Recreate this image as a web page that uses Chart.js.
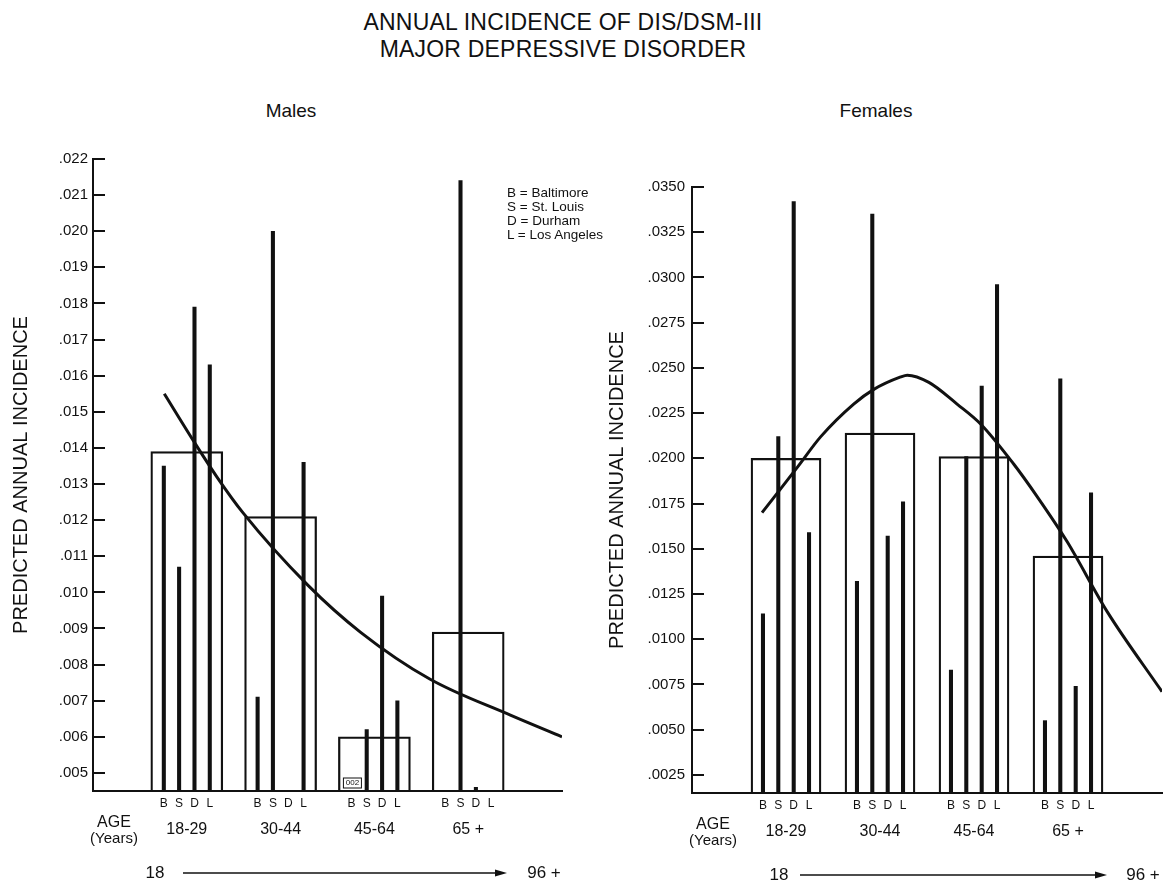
<!DOCTYPE html>
<html>
<head>
<meta charset="utf-8">
<title>Annual incidence of DIS/DSM-III major depressive disorder</title>
<script src="https://cdn.jsdelivr.net/npm/chart.js@4.4.1/dist/chart.umd.min.js"></script>
<style>
  body { margin: 0; background: #fff; width: 1164px; height: 884px; position: relative; overflow: hidden;
         font-family: 'Liberation Sans', Arial, sans-serif; color: #111; }
  .title { position: absolute; left: 0; top: 9px; width: 1126px; text-align: center; font-size: 23px;
           line-height: 27px; letter-spacing: 0.2px; }
  .sub { position: absolute; top: 100px; font-size: 19px; transform: translateX(-50%); }
  .panel { position: absolute; top: 140px; height: 744px; }
  .key { position: absolute; left: 507px; top: 186px; font-size: 13.5px; line-height: 14px; white-space: pre; }
</style>
</head>
<body>
<div class="title">ANNUAL INCIDENCE OF DIS/DSM-III<br>MAJOR DEPRESSIVE DISORDER</div>
<div class="sub" style="left:291px">Males</div>
<div class="sub" style="left:876px">Females</div>
<div class="panel" style="left:0;width:582px"><canvas id="males"></canvas></div>
<div class="panel" style="left:600px;width:564px"><canvas id="females"></canvas></div>
<div class="key" id="key"></div>

<script>
'use strict';

const ageGroups = ['18-29', '30-44', '45-64', '65 +'];
const cityCodes = ['B', 'S', 'D', 'L'];
const cityNames = ['Baltimore', 'St. Louis', 'Durham', 'Los Angeles'];
const ageRange  = ['18', '96 +'];

// Males: pooled estimate per age group (box) and one line per site
const maleTotal = [0.0139, 0.0121, 0.0060, 0.0089];
const maleB     = [0.0135, 0.0071, 0.0020, null];
const maleS     = [0.0107, 0.0200, 0.0062, 0.0214];
const maleD     = [0.0179, null,   0.0099, 0.0046];
const maleL     = [0.0163, 0.0136, 0.0070, null];
// fitted curve, x counted in age-group slots (1 = 18-29 ... 4 = 65+)
const maleFitX  = [0.76, 1.07, 1.32, 1.60, 2.29, 2.85, 3.59, 4.45, 5.0];
const maleFitY  = [0.0155, 0.0142, 0.0132, 0.0122, 0.0102, 0.0089, 0.0076, 0.0066, 0.0060];
const maleTicks = [0.005, 0.006, 0.007, 0.008, 0.009, 0.010, 0.011, 0.012, 0.013,
                   0.014, 0.015, 0.016, 0.017, 0.018, 0.019, 0.020, 0.021, 0.022];

// Females
const femaleTotal = [0.0200, 0.0214, 0.0201, 0.0146];
const femaleB     = [0.0114, 0.0132, 0.0083, 0.0055];
const femaleS     = [0.0212, 0.0335, 0.0201, 0.0244];
const femaleD     = [0.0342, 0.0157, 0.0240, 0.0074];
const femaleL     = [0.0159, 0.0176, 0.0296, 0.0181];
const femaleFitX  = [0.745, 1.12, 1.37, 1.72, 1.93, 2.22, 2.29, 2.52, 2.82, 3.07, 3.42, 3.67, 3.99, 4.42, 5.0];
const femaleFitY  = [0.0170, 0.0195, 0.0212, 0.0230, 0.0238, 0.0245, 0.0246, 0.0242, 0.0230,
                     0.0219, 0.0197, 0.0179, 0.0154, 0.0115, 0.0071];
const femaleTicks = [0.0025, 0.0050, 0.0075, 0.0100, 0.0125, 0.0150, 0.0175,
                     0.0200, 0.0225, 0.0250, 0.0275, 0.0300, 0.0325, 0.0350];

const INK = '#111';
const FONT = "'Liberation Sans', Arial, sans-serif";
// where each site's line sits inside an age-group slot (fraction of a slot)
const SITE_SHIFT = [-0.245, -0.082, 0.082, 0.245];

document.getElementById('key').textContent =
  cityCodes.map((c, i) => `${c} = ${cityNames[i]}`).join('\n');

// letters under the site lines, age labels, the age arrow
const notesPlugin = {
  id: 'notes',
  afterDraw(chart, args, opts) {
    const { ctx, chartArea: area, scales: { x, y } } = chart;
    const base = area.bottom;
    ctx.save();
    ctx.fillStyle = INK;
    ctx.strokeStyle = INK;
    ctx.textAlign = 'center';
    ctx.textBaseline = 'middle';

    opts.siteSets.forEach((dsIndex, k) => {
      const points = chart.data.datasets[dsIndex].data;
      points.forEach(p => {
        const bx = x.getPixelForValue(p.x);
        ctx.font = `12px ${FONT}`;
        ctx.fillText(cityCodes[k], bx, base + 13);
        if (p.y !== null && p.y < y.min) {
          // value below the axis: written in a small box, as in the original
          ctx.lineWidth = 1;
          ctx.strokeRect(bx - 8, base - 13, 18, 10);
          ctx.font = `8px ${FONT}`;
          ctx.fillText(p.y.toFixed(3).slice(2), bx + 1, base - 8);
        }
      });
    });

    ctx.font = `16px ${FONT}`;
    ageGroups.forEach((g, i) => ctx.fillText(g, x.getPixelForValue(i + 1), base + 39));
    ctx.fillText('AGE', area.left + 21, base + 32);
    ctx.font = `15px ${FONT}`;
    ctx.fillText('(Years)', area.left + 21, base + 48);

    // age arrow
    const a = opts.arrow, ay = base + 82;
    ctx.font = `17px ${FONT}`;
    ctx.fillText(ageRange[0], a.from, ay);
    ctx.fillText(ageRange[1], a.to, ay);
    ctx.lineWidth = 1.5;
    ctx.beginPath();
    ctx.moveTo(a.x1, ay);
    ctx.lineTo(a.x2 - 8, ay);
    ctx.stroke();
    ctx.beginPath();
    ctx.moveTo(a.x2, ay);
    ctx.lineTo(a.x2 - 12, ay - 3.5);
    ctx.lineTo(a.x2 - 12, ay + 3.5);
    ctx.closePath();
    ctx.fill();
    ctx.restore();
  }
};

function makeChart(id, s) {
  const sites = [s.b, s.s, s.d, s.l];
  return new Chart(document.getElementById(id), {
    type: 'bar',
    data: {
      datasets: [
        {
          label: 'All sites',
          data: s.total.map((v, j) => ({ x: j + 1, y: v })),
          grouped: false,
          barThickness: s.boxW,
          backgroundColor: 'rgba(0,0,0,0)',
          borderColor: INK,
          borderWidth: 1.6,
          borderSkipped: 'start',
          order: 2,
        },
        ...sites.map((vals, k) => ({
          label: cityNames[k],
          data: vals.map((v, j) => ({ x: j + 1 + SITE_SHIFT[k], y: v })),
          grouped: false,
          barThickness: 3.4,
          backgroundColor: INK,
          borderWidth: 0,
          order: 1,
        })),
        {
          type: 'line',
          label: 'Fitted',
          data: s.fitX.map((fx, i) => ({ x: fx, y: s.fitY[i] })),
          borderColor: INK,
          borderWidth: 3,
          pointRadius: 0,
          fill: false,
          cubicInterpolationMode: 'monotone',
          order: 0,
        },
      ]
    },
    options: {
      responsive: true,
      maintainAspectRatio: false,
      devicePixelRatio: 1,
      animation: false,
      events: [],
      layout: { padding: s.padding, autoPadding: false },
      plugins: {
        legend: { display: false },
        tooltip: { enabled: false },
        notes: { siteSets: [1, 2, 3, 4], arrow: s.arrow },
      },
      scales: {
        x: {
          type: 'linear',
          min: 0,
          max: 5,
          offset: false,
          grid: { display: true, drawOnChartArea: false, drawTicks: false },
          border: { display: true, color: INK, width: 2 },
          ticks: { display: false },
          afterFit: sc => { sc.height = s.xAxisH; },
        },
        y: {
          type: 'linear',
          min: s.min,
          max: s.max,
          afterBuildTicks: sc => { sc.ticks = s.ticks.map(v => ({ value: v })); },
          afterFit: sc => {
            sc.width = s.yAxisW;
            // keep the plot top where the layout padding puts it
            sc.paddingTop = 0;
            sc.paddingBottom = 0;
          },
          grid: { drawOnChartArea: false, drawTicks: true, tickLength: -12, color: INK, lineWidth: 2 },
          border: { display: true, color: INK, width: 2 },
          ticks: {
            color: INK,
            padding: s.tickPad,
            font: { size: 15, family: FONT },
            callback: v => '.' + v.toFixed(s.digits).split('.')[1],
          },
          title: {
            display: true,
            text: 'PREDICTED ANNUAL INCIDENCE',
            color: INK,
            padding: 0,
            font: { size: 20, family: FONT },
          },
        },
      }
    },
    plugins: [notesPlugin]
  });
}

makeChart('males', {
  total: maleTotal, b: maleB, s: maleS, d: maleD, l: maleL,
  fitX: maleFitX, fitY: maleFitY, ticks: maleTicks,
  min: 0.0045, max: 0.022, digits: 3,
  padding: { left: 9, top: 19, right: 20, bottom: 0 },
  yAxisW: 84, xAxisH: 93, tickPad: 17, boxW: 72,
  arrow: { from: 155, x1: 183, x2: 507, to: 544 },
});

makeChart('females', {
  total: femaleTotal, b: femaleB, s: femaleS, d: femaleD, l: femaleL,
  fitX: femaleFitX, fitY: femaleFitY, ticks: femaleTicks,
  min: 0.0015, max: 0.035, digits: 4,
  padding: { left: 5, top: 47, right: 2, bottom: 0 },
  yAxisW: 87, xAxisH: 91, tickPad: 19, boxW: 70,
  arrow: { from: 179, x1: 200, x2: 507, to: 543 },
});
</script>
</body>
</html>
